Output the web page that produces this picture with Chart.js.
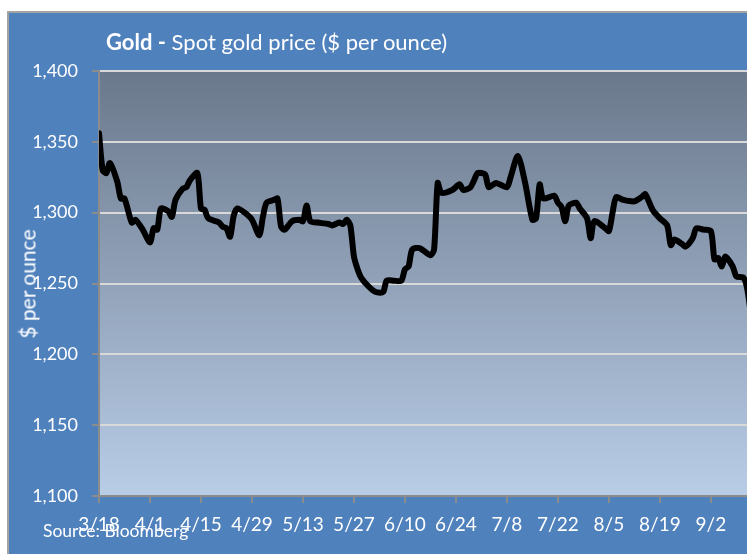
<!DOCTYPE html>
<html>
<head>
<meta charset="utf-8">
<script src="https://cdn.jsdelivr.net/npm/chart.js@4.4.1/dist/chart.umd.min.js"></script>
<style>
  html, body { margin: 0; padding: 0; background: #fff; overflow: hidden; width: 747px; height: 554px; }
  .panel { position: absolute; left: 7px; top: 11px; width: 800px; height: 600px; background: #4f81bd; border: 2px solid #a3a3a3; }
  #chart { position: absolute; left: 0; top: 0; }
  .txt { position: absolute; color: #fff; font-family: Lato, sans-serif; white-space: nowrap; }
  .title { left: 106px; top: 29px; font-size: 22px; line-height: 26px; }
  .ytitle { left: 27px; top: 284px; font-size: 21px; transform: translate(-50%, -50%) rotate(-90deg); }
  .source { left: 43px; top: 521px; font-size: 17.5px; line-height: 20px; }
</style>
</head>
<body>
<div class="panel"></div>
<canvas id="chart" width="800" height="554"></canvas>
<div class="txt title"><b>Gold -</b> Spot gold price ($ per ounce)</div>
<div class="txt ytitle">$ per ounce</div>
<div class="txt source">Source: Bloomberg</div>

<script>
// days counted from 3/18
var days = [0, 1, 2, 3, 5, 6, 7, 9, 10, 12, 14, 15, 16, 17, 19, 20, 21, 23, 24, 25, 27, 28, 29, 30, 33, 34, 35, 36, 37, 38,
  40, 42, 44, 45, 46, 48, 49, 50, 51, 53, 55, 56, 57, 58, 60, 63, 64, 66, 67, 68, 69, 70, 71, 72, 74, 76, 78, 79, 81, 83,
  84, 85, 86, 88, 91, 92, 93, 94, 97, 99, 100, 102, 103, 104, 106, 107, 109, 112, 113, 115, 117, 119, 120, 121, 122, 125, 126, 127, 128, 129,
  131, 132, 134, 135, 136, 139, 140, 141, 142, 144, 147, 149, 150, 152, 154, 156, 157, 158, 160, 161, 163, 164, 166, 168, 169, 170, 171, 172, 174, 175,
  177, 178, 179];
var prices = [1356, 1330, 1328, 1335, 1322, 1310, 1310, 1293, 1295, 1288, 1279, 1289, 1288, 1303, 1301, 1297, 1309, 1317, 1318, 1323, 1328, 1303, 1302, 1296, 1293, 1290, 1289, 1283, 1298, 1303,
  1300, 1295, 1284, 1297, 1307, 1309, 1310, 1290, 1288, 1294, 1295, 1294, 1305, 1294, 1293, 1292, 1291, 1293, 1292, 1295, 1291, 1269, 1260, 1254, 1248, 1244, 1244, 1252, 1252, 1252,
  1260, 1262, 1274, 1275, 1270, 1274, 1321, 1314, 1316, 1320, 1316, 1318, 1323, 1328, 1327, 1318, 1321, 1318, 1325, 1340, 1321, 1295, 1296, 1320, 1310, 1312, 1307, 1304, 1294, 1305,
  1307, 1303, 1296, 1282, 1294, 1289, 1287, 1300, 1311, 1309, 1308, 1311, 1313, 1302, 1296, 1291, 1277, 1281, 1278, 1276, 1282, 1289, 1288, 1287, 1267, 1268, 1262, 1269, 1262, 1255,
  1254, 1246, 1228];

var tickDays = [0, 14, 28, 42, 56, 70, 84, 98, 112, 126, 140, 154, 168];
var tickLabels = ['3/18', '4/1', '4/15', '4/29', '5/13', '5/27', '6/10', '6/24', '7/8', '7/22', '8/5', '8/19', '9/2'];

var points = days.map(function(d, i) { return {x: d, y: prices[i]}; });

Chart.defaults.font.family = 'Lato';

// plot area gradient
var plotBg = {
  id: 'plotBg',
  beforeDraw: function(chart) {
    var a = chart.chartArea, ctx = chart.ctx;
    var g = ctx.createLinearGradient(0, a.top, 0, a.bottom);
    g.addColorStop(0, '#6a788b');
    g.addColorStop(1, '#b9cde7');
    ctx.save();
    ctx.fillStyle = g;
    ctx.fillRect(a.left, a.top, a.right - a.left, a.bottom - a.top);
    ctx.restore();
  }
};

new Chart(document.getElementById('chart'), {
  type: 'line',
  data: {
    datasets: [{
      data: points,
      borderColor: '#000',
      borderWidth: 6,
      pointRadius: 0,
      tension: 0.25,
      borderJoinStyle: 'round',
      borderCapStyle: 'round'
    }]
  },
  options: {
    responsive: false,
    animation: false,
    devicePixelRatio: 1,
    layout: { padding: { left: 0, top: 71, right: 9, bottom: 0 } },
    plugins: { legend: { display: false }, tooltip: { enabled: false } },
    scales: {
      x: {
        type: 'linear',
        min: 0,
        max: 190,
        afterFit: function(s) { s.height = 58; },
        afterBuildTicks: function(s) { s.ticks = tickDays.map(function(v) { return {value: v}; }); },
        grid: { drawOnChartArea: false, tickColor: '#8c8c8c', tickLength: 7, lineWidth: 2 },
        border: { color: '#8c8c8c', width: 2 },
        ticks: {
          color: '#fff',
          font: { size: 19 },
          padding: 10,
          maxRotation: 0,
          autoSkip: false,
          callback: function(v) { var i = tickDays.indexOf(v); return i < 0 ? '' : tickLabels[i]; }
        }
      },
      y: {
        min: 1100,
        max: 1400,
        afterFit: function(s) { s.width = 99; },
        grid: { color: '#d9d9d9', tickColor: '#8c8c8c', tickLength: 7, lineWidth: 2 },
        border: { color: '#8c8c8c', width: 2 },
        ticks: {
          stepSize: 50,
          color: '#fff',
          font: { size: 18 },
          padding: 14,
          callback: function(v) { return v.toLocaleString('en-US'); }
        }
      }
    }
  },
  plugins: [plotBg]
});
</script>
</body>
</html>
